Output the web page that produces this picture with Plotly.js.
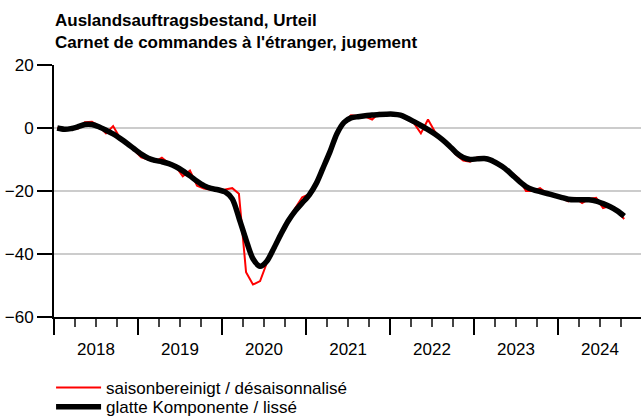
<!DOCTYPE html>
<html>
<head>
<meta charset="utf-8">
<script src="https://cdn.plot.ly/plotly-3.0.1.min.js"></script>
<style>html,body{margin:0;padding:0;background:#fff;}#chart{width:641px;height:418px;}</style>
</head>
<body>
<div id="chart"></div>
<script>
// Monthly data, Jan 2018 - Oct 2024
const startYear = 2018;
const seasonallyAdjusted = [
  0, -0.4, -0.5, -0.2, 1.8, 2.0, 0.6, -1.7, 0.6, -3.2, -4.8, -7.0,
  -9.3, -10.0, -10.7, -9.4, -11.2, -12.3, -15.3, -13.5, -18.3, -19.2, -19.6, -19.6,
  -19.5, -19.1, -20.9, -45.8, -49.7, -48.6, -42.7, -37.5, -33.5, -29.0, -25.5, -22.0,
  -21.0, -17.5, -12.5, -7.5, -1.5, 1.7, 4.0, 3.8, 3.6, 2.7, 4.8, 4.3,
  4.5, 4.2, 3.0, 1.5, -1.7, 2.7, -1.2, -3.8, -6.0, -8.5, -10.3, -10.7,
  -9.3, -9.2, -9.8, -11.5, -13.0, -14.3, -16.0, -20.0, -20.0, -19.1, -20.8, -21.5,
  -22.2, -23.3, -22.2, -23.8, -22.5, -22.2, -25.4, -24.7, -26.5, -28.9
];
const smoothed = [
  0, -0.4, -0.2, 0.4, 1.1, 1.1, 0.4, -0.7, -1.9, -3.3, -4.9, -6.6,
  -8.3, -9.6, -10.3, -10.7, -11.3, -12.3, -13.6, -15.2, -16.9, -18.3, -19.2, -19.6,
  -20.3, -22.5, -28.5, -35.5, -41.5, -43.9, -42.2, -38.0, -33.5, -29.5, -26.3, -23.8,
  -21.2, -17.5, -12.8, -7.5, -1.8, 1.8, 3.2, 3.6, 3.9, 4.1, 4.3, 4.4,
  4.4, 4.1, 3.2, 2.0, 0.8, -0.5, -1.9, -3.6, -5.6, -7.8, -9.4, -10.0,
  -9.8, -9.7, -10.2, -11.4, -12.8, -14.8, -16.8, -18.6, -19.6, -20.2, -20.8, -21.4,
  -22.0, -22.6, -22.8, -22.8, -22.8, -23.2, -24.0, -25.0, -26.3, -28.0
];
const yTicks = [-60, -40, -20, 0, 20];
const seriesNames = ['saisonbereinigt / désaisonnalisé', 'glatte Komponente / lissé'];
const titleLines = ['Auslandsauftragsbestand, Urteil', "Carnet de commandes à l'étranger, jugement"];

const months = seasonallyAdjusted.map((_, i) => {
  const y = startYear + Math.floor(i / 12);
  const m = (i % 12) + 1;
  return y + '-' + String(m).padStart(2, '0') + '-15';
});

const FONT = 'Liberation Sans, Arial, sans-serif';

const traces = [
  {x: months, y: seasonallyAdjusted, type: 'scatter', mode: 'lines', name: seriesNames[0],
   legend: 'legend', line: {color: '#ff0000', width: 2}},
  {x: months, y: smoothed, type: 'scatter', mode: 'lines', name: seriesNames[1],
   legend: 'legend2', line: {color: '#000000', width: 5.5, shape: 'spline', smoothing: 0.8}}
];

const legendBase = {
  xanchor: 'left', yanchor: 'middle', orientation: 'v', bgcolor: 'rgba(0,0,0,0)',
  font: {family: FONT, size: 17, color: '#000'}, itemwidth: 45
};

const layout = {
  width: 641, height: 418,
  margin: {l: 54, r: 0, t: 65, b: 101, pad: 0, autoexpand: false},
  paper_bgcolor: '#ffffff', plot_bgcolor: '#ffffff',
  font: {family: FONT, size: 17, color: '#000'},
  showlegend: true,
  title: {
    text: '<b>' + titleLines[0] + '</b><br><b>' + titleLines[1] + '</b>',
    x: 55 / 641, xanchor: 'left', xref: 'container',
    y: 1 - 26 / 418, yanchor: 'top', yref: 'container',
    font: {family: FONT, size: 17, color: '#000'}
  },
  xaxis: {
    type: 'date',
    range: ['2018-01-01', '2024-12-27'],
    showline: true, linecolor: '#000', linewidth: 2,
    ticks: 'outside', ticklen: 16, tickwidth: 2, tickcolor: '#000',
    tick0: '2018-01-01', dtick: 'M12', tickformat: '%Y',
    ticklabelmode: 'period',
    minor: {ticks: 'outside', ticklen: 8, tickwidth: 2, tickcolor: '#444', dtick: 'M3', tick0: '2018-01-01', showgrid: false},
    showgrid: false, zeroline: false,
    tickfont: {family: FONT, size: 17, color: '#000'}
  },
  yaxis: {
    range: [-60, 20], tickvals: yTicks,
    ticktext: yTicks.map(v => v < 0 ? '\u2212' + Math.abs(v) : String(v)),
    showline: true, linecolor: '#000', linewidth: 2,
    ticks: 'outside', ticklen: 15, tickwidth: 2, tickcolor: '#000',
    showgrid: true, gridcolor: '#cccccc', gridwidth: 1.5,
    zeroline: false,
    tickfont: {family: FONT, size: 17, color: '#000'}
  },
  legend: Object.assign({x: -0.005, y: -0.282}, legendBase),
  legend2: Object.assign({x: -0.005, y: -0.358}, legendBase)
};

Plotly.newPlot('chart', traces, layout, {displayModeBar: false, staticPlot: true});
</script>
</body>
</html>
